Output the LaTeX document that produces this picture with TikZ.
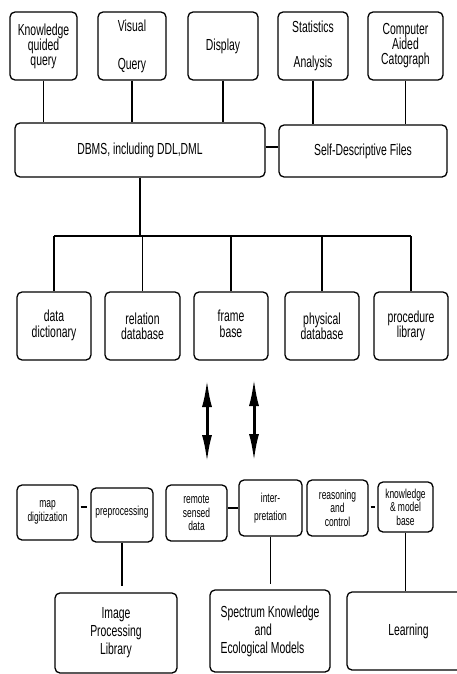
\documentclass[tikz,border=0pt]{standalone}
\usepackage{fontspec}
\setmainfont[FakeStretch=0.65]{Liberation Sans}
\usetikzlibrary{arrows.meta}
\newcommand{\stk}[1]{\begin{tabular}{@{}c@{}}#1\end{tabular}}
\begin{document}
\begin{tikzpicture}[x=1pt,y=-1pt,
  box/.style={draw,line width=1.3pt,rounded corners=5pt,inner sep=0pt,align=center,font=\fontsize{16}{15}\selectfont},
  small/.style={box,font=\fontsize{13}{13.5}\selectfont},
  big/.style={box,font=\fontsize{16}{18}\selectfont},
  conn/.style={line width=1.2pt},
  bigarrow/.style={line width=3pt,{Latex[length=28pt,width=10pt]}-{Latex[length=28pt,width=10pt]}}]
\clip (0,0) rectangle (457,674);
\fill[white] (0,0) rectangle (457,674);

% top row
\node[box,minimum width=67pt,minimum height=68pt] (kq) at (43.5,46) {Knowledge\\quided\\query};
\node[box,minimum width=68pt,minimum height=68pt] (vq) at (132,46) {Visual\\[23pt]Query};
\node[box,minimum width=70pt,minimum height=68pt] (disp) at (223,46) {\raisebox{3pt}{Display}};
\node[box,minimum width=70pt,minimum height=68pt] (stat) at (313,46) {Statistics\\[20pt]Analysis};
\node[box,minimum width=75pt,minimum height=68pt] (cac) at (405.5,46) {Computer\\Aided\\Catograph};

% middle
\node[box,minimum width=250pt,minimum height=54pt] (dbms) at (140,150) {DBMS, including DDL,DML};
\node[box,minimum width=168pt,minimum height=52pt] (sdf) at (363,151) {Self-Descriptive Files};

% data boxes
\node[box,minimum width=74pt,minimum height=68pt] (dd) at (54,326) {\raisebox{-5pt}{\stk{data\\dictionary}}};
\node[box,minimum width=75pt,minimum height=68pt] (rd) at (142.5,326) {relation\\database};
\node[box,minimum width=74pt,minimum height=68pt] (fb) at (231,326) {\raisebox{-5pt}{\stk{frame\\base}}};
\node[box,minimum width=74pt,minimum height=68pt] (pd) at (322,326) {physical\\database};
\node[box,minimum width=74pt,minimum height=68pt] (pl) at (411,326) {procedure\\library};

% lower row
\node[small,minimum width=61pt,minimum height=55pt] (map) at (47.5,512.5) {map\\digitization};
\node[small,minimum width=62pt,minimum height=54pt] (pre) at (122,515) {\raisebox{8pt}{preprocessing}};
\node[small,minimum width=61pt,minimum height=56pt] (rsd) at (196.5,513) {remote\\sensed\\data};
\node[small,minimum width=63pt,minimum height=56pt] (int) at (270.5,508) {inter-\\[4pt]pretation};
\node[small,minimum width=61pt,minimum height=56pt] (rc) at (337.5,508) {reasoning\\and\\control};
\node[small,minimum width=55pt,minimum height=50pt] (kmb) at (405.5,507) {knowledge\\\& model\\base};

% bottom row
\node[big,minimum width=122pt,minimum height=80pt] (ipl) at (116,633) {Image\\Processing\\Library};
\node[big,minimum width=120pt,minimum height=82pt,align=left] (skem) at (270,631) {Spectrum Knowledge\\\hspace*{34pt}and\\Ecological Models};
\node[big,minimum width=123pt,minimum height=78pt] (learn) at (408.5,631) {Learning};

% connectors top
\foreach \n in {kq,vq,disp}{\draw[conn] (\n.south) -- (\n.south |- dbms.north);}
\foreach \n in {stat,cac}{\draw[conn] (\n.south) -- (\n.south |- sdf.north);}
\draw[conn] (dbms.east |- 0,147) -- (sdf.west |- 0,147);
\coordinate (bus) at (140,236);
\draw[conn] (dbms.south) -- (bus);
\draw[conn] (dd.north |- bus) -- (pl.north |- bus);
\foreach \n in {dd,rd,fb,pd,pl}{\draw[conn] (\n.north |- bus) -- (\n.north);}

% big arrows
\coordinate (a1t) at (207,379);
\coordinate (a1b) at (207,463);
\coordinate (a2t) at (254,378);
\coordinate (a2b) at (254,462);
\draw[bigarrow] (a1t) -- (a1b);
\draw[bigarrow] (a2t) -- (a2b);

% lower connectors
\draw[conn,shorten <=2pt,shorten >=3pt] (map.east |- 0,507) -- (pre.west |- 0,507);
\draw[conn] (rsd.east |- int.west) -- (int.west);
\draw[conn,shorten <=2pt,shorten >=2pt] (rc.east |- kmb.west) -- (kmb.west);
\draw[conn,shorten >=6pt] (pre.south) -- (pre.south |- ipl.north);
\draw[conn,shorten >=5pt] (int.south) -- (int.south |- skem.north);
\draw[conn] (kmb.south) -- (kmb.south |- learn.north);
\end{tikzpicture}
\end{document}
